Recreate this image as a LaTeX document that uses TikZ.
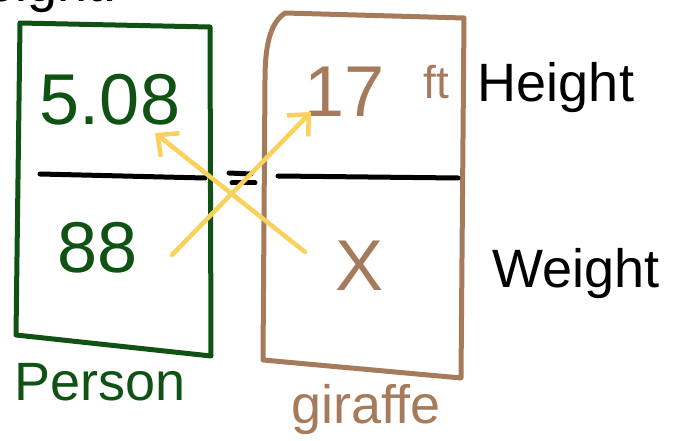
\documentclass[tikz,border=0pt]{standalone}
\usepackage{fontspec}
\setmainfont{Liberation Sans}
\usetikzlibrary{arrows.meta}
\definecolor{persongreen}{HTML}{0F5214}
\definecolor{giraffebrown}{HTML}{A57B5C}
\definecolor{arrowyellow}{HTML}{F9D15B}
\begin{document}
\begin{tikzpicture}[x=1pt,y=-1pt,line cap=round,line join=round,
   pen/.style={line width=5pt},
   big/.style={font=\fontsize{72}{72}\selectfont,inner sep=0pt},
   word/.style={font=\fontsize{54}{54}\selectfont,inner sep=0pt},
   swap/.style={arrowyellow,line width=4.5pt,-{Straight Barb[length=16pt,width=30pt,line width=4.5pt]}}]
   \useasboundingbox (0,0) rectangle (673,441);
   \clip (0,0) rectangle (673,441);
   % cut off heading
   \node[word,anchor=base east] (head) at (118,2) {Height:};
   % person box
   \draw[pen,persongreen] (20,23) -- (210,27) -- (211,356) -- (16,335) -- cycle;
   \node[big,persongreen] (pheight) at (110,100) {5.08};
   \node[big,persongreen] (pweight) at (98,248) {88};
   \draw[pen,black] (40,174) -- (205,178);
   \node[word,persongreen] (person) at (100,382) {Person};
   % equals sign
   \draw[pen,black] (229,173) -- (251,174);
   \draw[pen,black] (232,183) -- (255,183);
   % giraffe box
   \draw[pen,giraffebrown] (285,13) -- (464,18) -- (461,378) -- (263,360) -- (265,80)
      .. controls (265,40) and (272,22) .. (285,13);
   \node[big,giraffebrown] (gheight) at (345,92) {17};
   \node[font=\fontsize{46}{46}\selectfont,giraffebrown,inner sep=0pt] (unit) at (436,82) {ft};
   \node[big,giraffebrown] (gweight) at (360,266) {X};
   \draw[pen,black] (278,176) -- (458,178);
   \node[word,giraffebrown] (giraffe) at (366,410) {giraffe};
   % row labels
   \node[word] (hlabel) at (556,88) {Height};
   \node[word] (wlabel) at (576,274) {Weight};
   % cross multiply arrows
   \coordinate (a1) at (172,255);
   \coordinate (a2) at (311,112);
   \coordinate (b1) at (305,252);
   \coordinate (b2) at (155,133);
   \draw[swap] (a1) -- (a2);
   \draw[swap] (b1) -- (b2);
\end{tikzpicture}
\end{document}
